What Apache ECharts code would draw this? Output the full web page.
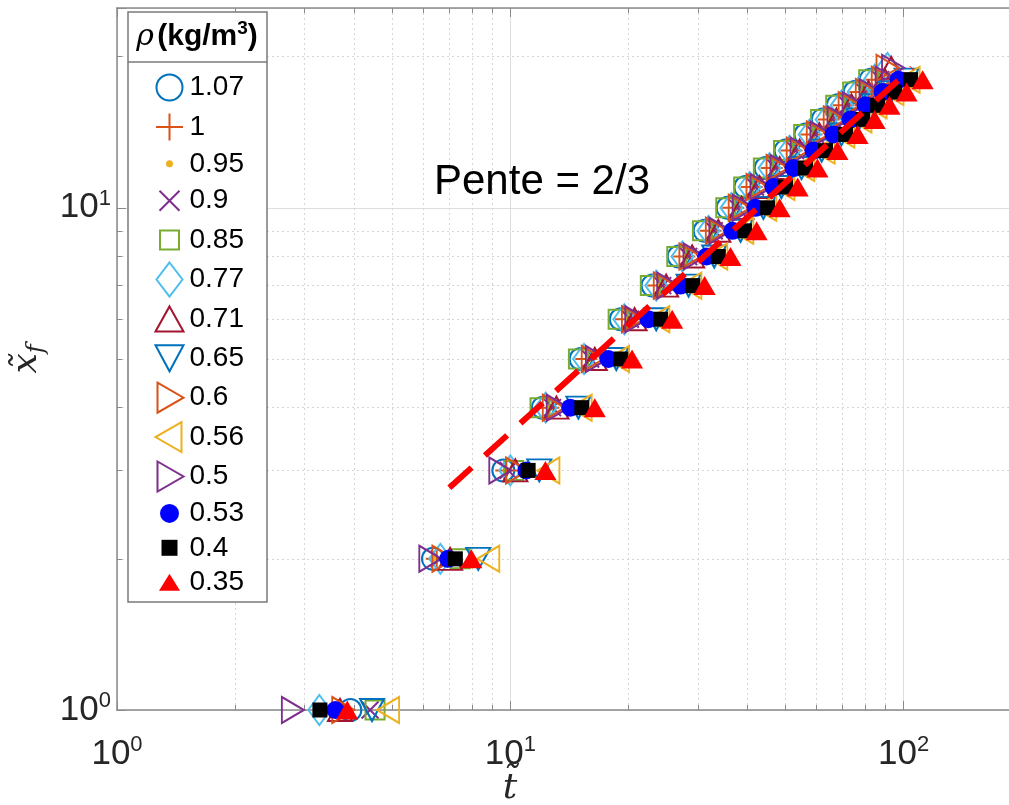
<!DOCTYPE html>
<html>
<head>
<meta charset="UTF-8">
<title>x_f en fonction de t</title>
<style type="text/css">
  html,body{margin:0;height:100%;width:100%;background:#fff}
  #chart{width:1009px;height:805px}
</style>
<script type="text/javascript" src="https://cdn.jsdelivr.net/npm/echarts@6/dist/echarts.min.js"></script>
</head>
<body>
<div id="chart"></div>
<script>
  // front position (rows) and time for each density
  var xfRows = [1, 2, 3, 4, 5, 6, 7, 8, 9, 10, 11, 12, 13, 14, 15, 16, 17, 18, 19];
  var densities = ['1.07', '1', '0.95', '0.9', '0.85', '0.77', '0.71', '0.65', '0.6', '0.56', '0.5', '0.53', '0.4', '0.35'];

  var t107 = [3.92, 6.36, 9.60, 12.1, 15.1, 19.1, 23.0, 26.8, 31.2, 35.7, 39.6, 44.6, 50.1, 56.3, 62.3, 68.0, 75.1, 82.5];
  var t100 = [3.67, 6.50, 9.77, 12.5, 15.6, 19.7, 23.8, 27.7, 32.3, 36.9, 41.1, 46.2, 51.9, 58.3, 64.5, 70.4, 77.7, 85.4];
  var t095 = [3.70, 6.34, 9.77, 12.6, 15.8, 20.0, 24.1, 28.0, 32.6, 37.4, 41.5, 46.7, 52.5, 59.0, 65.2, 71.2, 78.6, 86.3];
  var t090 = [4.40, 6.60, 9.88, 12.8, 16.0, 20.2, 24.4, 28.4, 33.0, 37.8, 42.0, 47.3, 53.1, 59.7, 66.0, 72.1, 79.6, 87.4];
  var t085 = [4.53, 7.46, 10.2, 11.9, 14.9, 18.8, 22.7, 26.5, 30.8, 35.3, 39.2, 44.0, 49.5, 55.7, 61.5, 67.2, 74.2, 81.5];
  var t077 = [3.27, 6.64, 10.0, 12.3, 15.4, 19.5, 23.5, 27.4, 31.9, 36.5, 40.6, 45.6, 51.3, 57.7, 63.7, 69.6, 76.8, 84.4, 91.0];
  var t071 = [3.69, 7.03, 10.3, 13.1, 16.4, 20.7, 24.9, 29.0, 33.8, 38.7, 43.0, 48.4, 54.4, 61.1, 67.5, 73.7, 81.4, 89.5, 93.0];
  var t065 = [4.45, 8.29, 11.85, 14.9, 18.6, 23.5, 28.4, 33.0, 38.5, 44.0, 48.9, 55.0, 61.9, 69.5, 76.8, 83.9, 92.7, 101.8];
  var t060 = [3.76, 6.76, 10.4, 12.9, 16.2, 20.5, 24.7, 28.7, 33.5, 38.3, 42.5, 47.8, 53.8, 60.5, 66.8, 72.9, 80.6, 88.5, 91.0];
  var t056 = [4.89, 8.79, 12.5, 15.1, 18.8, 23.8, 28.7, 33.4, 38.9, 44.5, 49.5, 55.6, 62.6, 70.3, 77.7, 84.9, 93.7, 103.0];
  var t050 = [2.80, 6.26, 9.43, 13.2, 16.6, 20.9, 25.2, 29.4, 34.2, 39.2, 43.5, 48.9, 55.0, 61.8, 68.3, 74.6, 82.4, 90.5, 94.0];
  var t053 = [3.59, 6.95, 10.98, 14.21, 17.76, 22.45, 27.08, 31.53, 36.72, 42.02, 46.70, 52.50, 59.02, 66.36, 73.33, 80.06, 88.43, 97.12];
  var t040 = [3.28, 7.25, 11.1, 15.2, 19.1, 24.1, 29.1, 33.8, 39.4, 45.1, 50.1, 56.3, 63.3, 71.2, 78.7, 85.9, 94.9, 104.2];
  var t035 = [3.85, 7.96, 12.28, 16.4, 20.4, 25.8, 31.2, 36.3, 42.3, 48.4, 53.8, 60.4, 67.9, 76.4, 84.4, 92.1, 101.8, 111.8];

  // slope 2/3 guide line
  var slopeT = [7.0, 105];
  var slopeX = [2.77, 19.0];

  var tValues = [t107, t100, t095, t090, t085, t077, t071, t065, t060, t056, t050, t053, t040, t035];

  // marker style per density (plot symbol, size, colour, filled?, legend icon in a 30x36 box)
  var B = 'path://M0,0M30,36';
  var markers = [
    { symbol: 'circle', size: 22, color: '#0072BD', fill: false, icon: B + 'M28,18A13,13,0,1,1,2,18A13,13,0,1,1,28,18Z' },
    { symbol: 'path://M0,10L20,10M10,0L10,20', size: 22, color: '#D95319', fill: false, icon: B + 'M1.5,18L28.5,18M15,4.5L15,31.5' },
    { symbol: 'circle', size: 7, color: '#EDB120', fill: true, icon: B + 'M18.5,18A3.5,3.5,0,1,1,11.5,18A3.5,3.5,0,1,1,18.5,18Z' },
    { symbol: 'path://M0,0L20,20M20,0L0,20', size: 17, color: '#7E2F8E', fill: false, icon: B + 'M5,8L25,28M25,8L5,28' },
    { symbol: 'rect', size: 19, color: '#77AC30', fill: false, icon: B + 'M5.5,8.5L24.5,8.5L24.5,27.5L5.5,27.5Z' },
    { symbol: 'diamond', size: [22, 30], color: '#4DBEEE', fill: false, icon: B + 'M15,1L28,18L15,35L2,18Z' },
    { symbol: 'path://M10,0L20,18L0,18Z', size: [24, 22], color: '#A2142F', fill: false, icon: B + 'M15,5.5L29,30.5L1,30.5Z' },
    { symbol: 'path://M0,0L20,0L10,18Z', size: [24, 22], color: '#0072BD', fill: false, icon: B + 'M1,5L29,5L15,31Z' },
    { symbol: 'path://M0,0L18,10L0,20Z', size: [22, 26], color: '#D95319', fill: false, icon: B + 'M3,3L29,18L3,33Z' },
    { symbol: 'path://M18,0L0,10L18,20Z', size: [22, 26], color: '#EDB120', fill: false, icon: B + 'M27,3L1,18L27,33Z' },
    { symbol: 'path://M0,0L18,10L0,20Z', size: [22, 26], color: '#7E2F8E', fill: false, icon: B + 'M3,3L29,18L3,33Z' },
    { symbol: 'circle', size: 18, color: '#0000FF', fill: true, icon: B + 'M24.5,18A9.5,9.5,0,1,1,5.5,18A9.5,9.5,0,1,1,24.5,18Z' },
    { symbol: 'rect', size: 15, color: '#000000', fill: true, icon: B + 'M7,10L23,10L23,26L7,26Z' },
    { symbol: 'path://M10,0L20,18L0,18Z', size: [22, 19], color: '#FF0000', fill: true, icon: B + 'M15,9.5L25.5,26.5L4.5,26.5Z' }
  ];

  function markerStyle(m) {
    return m.fill ? { color: m.color, borderWidth: 0, opacity: 1 }
                  : { color: 'none', borderColor: m.color, borderWidth: 2, opacity: 1 };
  }

  function powLabel(v) {
    var e = Math.log10(v);
    if (Math.abs(e - Math.round(e)) > 1e-6) return '';
    return '{b|10}{e|' + Math.round(e) + '}';
  }

  var labelRich = {
    b: { fontSize: 35, fontFamily: 'Liberation Sans', color: '#262626', lineHeight: 40 },
    e: { fontSize: 22, fontFamily: 'Liberation Sans', color: '#262626', lineHeight: 22, verticalAlign: 'top' }
  };
  var frameColor = '#8a8a8a';
  var majorGrid = { show: true, lineStyle: { color: '#dedede', width: 1 } };
  var minorGrid = { show: true, lineStyle: { color: '#d6d6d6', width: 1, type: [2, 3] } };

  var series = densities.map(function (name, k) {
    var m = markers[k];
    return {
      name: name,
      type: 'scatter',
      symbol: m.symbol,
      symbolSize: m.size,
      itemStyle: markerStyle(m),
      data: tValues[k].map(function (t, i) { return [t, xfRows[i]]; }),
      emphasis: { disabled: true }
    };
  });

  series.push({
    name: 'pente',
    type: 'line',
    showSymbol: false,
    data: slopeT.map(function (t, i) { return [t, slopeX[i]]; }),
    lineStyle: { color: '#FF0000', width: 6, type: [30, 18] },
    z: 3,
    silent: true
  });

  var chart = echarts.init(document.getElementById('chart'));
  chart.setOption({
    animation: false,
    backgroundColor: '#fff',
    grid: { left: 117, top: 8, width: 905, height: 702, outerBoundsMode: 'none', containLabel: false, show: false },
    xAxis: [{
      type: 'log', logBase: 10, min: 1, max: 200,
      axisLine: { lineStyle: { color: frameColor, width: 1.5 } },
      axisTick: { inside: true, length: 9, lineStyle: { color: frameColor } },
      minorTick: { show: true, splitNumber: 9, length: 5, lineStyle: { color: frameColor } },
      axisLabel: { formatter: powLabel, margin: 24, showMaxLabel: false, rich: labelRich },
      splitLine: majorGrid,
      minorSplitLine: minorGrid
    }, {
      // mirrored top edge of the box
      type: 'log', logBase: 10, min: 1, max: 200, position: 'top',
      axisLine: { lineStyle: { color: frameColor, width: 1.5 } },
      axisTick: { inside: true, length: 9, lineStyle: { color: frameColor } },
      minorTick: { show: true, splitNumber: 9, length: 5, lineStyle: { color: frameColor } },
      axisLabel: { show: false },
      splitLine: { show: false },
      minorSplitLine: { show: false }
    }],
    yAxis: {
      type: 'log', logBase: 10, min: 1, max: 25,
      axisLine: { lineStyle: { color: frameColor, width: 1.5 } },
      axisTick: { inside: true, length: 9, lineStyle: { color: frameColor } },
      minorTick: { show: true, splitNumber: 9, length: 5, lineStyle: { color: frameColor } },
      axisLabel: { formatter: powLabel, margin: 6, showMaxLabel: false, rich: labelRich },
      splitLine: majorGrid,
      minorSplitLine: minorGrid,
      name: '{v|x\u0303}{s|f}',
      nameLocation: 'middle',
      nameRotate: 90,
      nameGap: 66,
      nameTextStyle: {
        rich: {
          v: { fontFamily: 'DejaVu Serif', fontStyle: 'italic', fontSize: 36, color: '#262626', lineHeight: 44 },
          s: { fontFamily: 'DejaVu Serif', fontStyle: 'italic', fontSize: 24, color: '#262626', lineHeight: 26, verticalAlign: 'bottom' }
        }
      }
    },
    legend: {
      data: densities.map(function (name, k) {
        return { name: name, icon: markers[k].icon, itemStyle: markerStyle(markers[k]) };
      }),
      orient: 'vertical',
      left: 152,
      top: 67,
      padding: 0,
      itemWidth: 30,
      itemHeight: 36,
      itemGap: -1.6,
      selectedMode: false,
      z: 6,
      textStyle: { fontSize: 28, lineHeight: 30, color: '#000', fontFamily: 'Liberation Sans' }
    },
    graphic: [
      { type: 'rect', shape: { x: 128, y: 12, width: 139, height: 590 },
        style: { fill: '#fff', stroke: '#7a7a7a', lineWidth: 1.5 }, z: 5 },
      { type: 'line', shape: { x1: 128, y1: 62, x2: 267, y2: 62 },
        style: { stroke: '#7a7a7a', lineWidth: 1.5 }, z: 5 },
      { type: 'text', x: 197, y: 37, z: 6,
        style: {
          text: '{r|\u03c1} {b|(kg/m}{s|3}{b|)}',
          textAlign: 'center', align: 'center', textVerticalAlign: 'middle', verticalAlign: 'middle',
          rich: {
            r: { fontFamily: 'DejaVu Serif', fontStyle: 'italic', fontSize: 30, fill: '#000', lineHeight: 36 },
            b: { fontFamily: 'Liberation Sans', fontWeight: 'bold', fontSize: 30, fill: '#000', lineHeight: 36 },
            s: { fontFamily: 'Liberation Sans', fontWeight: 'bold', fontSize: 19, fill: '#000', lineHeight: 19, verticalAlign: 'top' }
          }
        } },
      { type: 'text', x: 434, y: 182, z: 6,
        style: { text: 'Pente = 2/3', fontSize: 42, fontFamily: 'Liberation Sans', fill: '#000',
                 textVerticalAlign: 'middle', verticalAlign: 'middle' } },
      { type: 'text', x: 510, y: 789, z: 6,
        style: { text: 't\u0303', fontSize: 36, fontFamily: 'DejaVu Serif', fontStyle: 'italic', fill: '#262626',
                 textAlign: 'center', align: 'center', textVerticalAlign: 'middle', verticalAlign: 'middle' } }
    ],
    series: series
  });
</script>
</body>
</html>
